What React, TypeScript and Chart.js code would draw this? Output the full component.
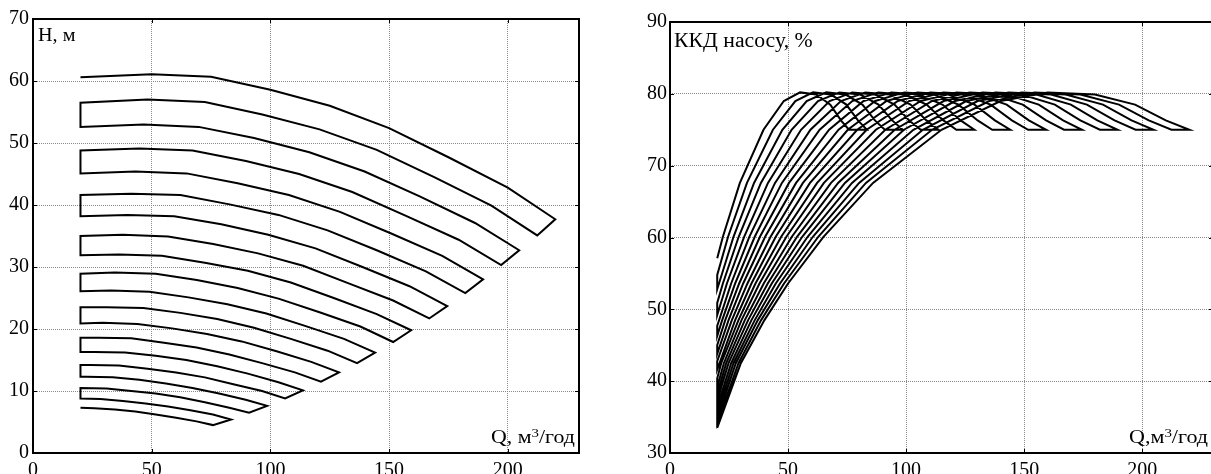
import React, { useEffect, useRef } from 'react';
import { Chart, registerables } from 'chart.js';

Chart.register(...registerables);

// ---------- tick labels ----------
const X_TICKS = [0, 50, 100, 150, 200];
const HEAD_TICKS = [0, 10, 20, 30, 40, 50, 60, 70];
const EFF_TICKS = [30, 40, 50, 60, 70, 80, 90];

// ---------- H–Q curves (Q, м³/год ; H, м) ----------
const head01Q = [20, 50, 75, 100, 125, 150, 175, 200, 220];
const head01H = [60.6, 61.1, 60.7, 58.6, 56.0, 52.4, 47.7, 42.8, 37.7];
const head02Q = [20, 48.3, 72.4, 96.6, 120.7, 144.8, 169.0, 193.1, 212.4];
const head02H = [56.5, 57.0, 56.6, 54.6, 52.2, 48.9, 44.5, 39.9, 35.1];
const head03Q = [20, 46.6, 69.8, 93.1, 116.4, 139.7, 162.9, 186.2, 204.8];
const head03H = [52.6, 53.0, 52.6, 50.8, 48.5, 45.4, 41.4, 37.1, 32.7];
const head04Q = [20, 44.8, 67.2, 89.7, 112.1, 134.5, 156.9, 179.3, 197.2];
const head04H = [48.8, 49.1, 48.8, 47.1, 45.0, 42.1, 38.3, 34.4, 30.3];
const head05Q = [20, 43.1, 64.7, 86.2, 107.8, 129.3, 150.9, 172.4, 189.6];
const head05H = [45.1, 45.4, 45.1, 43.5, 41.6, 38.9, 35.4, 31.8, 28.0];
const head06Q = [20, 41.4, 62.1, 82.8, 103.4, 124.1, 144.8, 165.5, 182.1];
const head06H = [41.6, 41.8, 41.6, 40.1, 38.4, 35.9, 32.7, 29.3, 25.8];
const head07Q = [20, 39.7, 59.5, 79.3, 99.1, 119.0, 138.8, 158.6, 174.5];
const head07H = [38.2, 38.4, 38.2, 36.9, 35.2, 33.0, 30.0, 26.9, 23.7];
const head08Q = [20, 37.9, 56.9, 75.9, 94.8, 113.8, 132.7, 151.7, 166.9];
const head08H = [35.0, 35.2, 34.9, 33.7, 32.2, 30.2, 27.4, 24.6, 21.7];
const head09Q = [20, 36.2, 54.3, 72.4, 90.5, 108.6, 126.7, 144.8, 159.3];
const head09H = [31.9, 32.0, 31.8, 30.7, 29.4, 27.5, 25.0, 22.4, 19.8];
const head10Q = [20, 34.5, 51.7, 69.0, 86.2, 103.4, 120.7, 137.9, 151.7];
const head10H = [28.9, 29.1, 28.9, 27.9, 26.6, 24.9, 22.7, 20.4, 17.9];
const head11Q = [20, 32.8, 49.1, 65.5, 81.9, 98.3, 114.6, 131.0, 144.1];
const head11H = [26.1, 26.2, 26.0, 25.1, 24.0, 22.5, 20.5, 18.4, 16.2];
const head12Q = [20, 31.0, 46.5, 62.1, 77.6, 93.1, 108.6, 124.1, 136.5];
const head12H = [23.5, 23.5, 23.4, 22.6, 21.6, 20.2, 18.4, 16.5, 14.5];
const head13Q = [20, 29.3, 44.0, 58.6, 73.3, 87.9, 102.6, 117.2, 128.9];
const head13H = [20.9, 21.0, 20.8, 20.1, 19.2, 18.0, 16.4, 14.7, 13.0];
const head14Q = [20, 27.6, 41.4, 55.2, 68.9, 82.7, 96.5, 110.3, 121.3];
const head14H = [18.6, 18.6, 18.5, 17.8, 17.0, 15.9, 14.5, 13.0, 11.5];
const head15Q = [20, 25.9, 38.8, 51.7, 64.6, 77.6, 90.5, 103.4, 113.7];
const head15H = [16.3, 16.3, 16.2, 15.7, 15.0, 14.0, 12.8, 11.4, 10.1];
const head16Q = [20, 24.1, 36.2, 48.3, 60.3, 72.4, 84.4, 96.5, 106.2];
const head16H = [14.2, 14.2, 14.1, 13.6, 13.0, 12.2, 11.1, 10.0, 8.8];
const head17Q = [20, 22.4, 33.6, 44.8, 56.0, 67.2, 78.4, 89.6, 98.6];
const head17H = [12.3, 12.3, 12.2, 11.8, 11.2, 10.5, 9.6, 8.6, 7.6];
const head18Q = [20, 31.0, 41.4, 51.7, 62.0, 72.4, 82.7, 91.0];
const head18H = [10.5, 10.4, 10.0, 9.6, 9.0, 8.2, 7.3, 6.5];
const head19Q = [20, 28.4, 37.9, 47.4, 56.9, 66.3, 75.8, 83.4];
const head19H = [8.8, 8.7, 8.4, 8.0, 7.5, 6.9, 6.2, 5.4];
const head20Q = [20, 25.8, 34.5, 43.1, 51.7, 60.3, 68.9, 75.8];
const head20H = [7.3, 7.2, 7.0, 6.7, 6.2, 5.7, 5.1, 4.5];

// ---------- efficiency curves (Q, м³/год ; ККД, %) ----------
const eff01Q = [20, 30, 40, 50, 65, 86, 115, 140, 160, 180, 197, 210, 220];
const eff01E = [33.5, 42.5, 48.5, 53.6, 60.1, 67.6, 75, 79, 80.2, 79.9, 78.5, 76.3, 75];
const eff02Q = [20, 29.0, 38.6, 48.3, 62.8, 83.0, 111.0, 135.2, 154.5, 173.8, 190.2, 202.8, 212.4];
const eff02E = [34.1, 42.5, 48.5, 53.6, 60.1, 67.6, 75, 79, 80.2, 79.9, 78.5, 76.3, 75];
const eff03Q = [20, 27.9, 37.2, 46.6, 60.5, 80.1, 107.1, 130.3, 149.0, 167.6, 183.4, 195.5, 204.8];
const eff03E = [34.8, 42.5, 48.5, 53.6, 60.1, 67.6, 75, 79, 80.2, 79.9, 78.5, 76.3, 75];
const eff04Q = [20, 26.9, 35.9, 44.8, 58.3, 77.1, 103.1, 125.5, 143.4, 161.4, 176.6, 188.3, 197.2];
const eff04E = [35.6, 42.5, 48.5, 53.6, 60.1, 67.6, 75, 79, 80.2, 79.9, 78.5, 76.3, 75];
const eff05Q = [20, 25.9, 34.5, 43.1, 56.0, 74.1, 99.1, 120.7, 137.9, 155.2, 169.8, 181.0, 189.6];
const eff05E = [36.4, 42.5, 48.5, 53.6, 60.1, 67.6, 75, 79, 80.2, 79.9, 78.5, 76.3, 75];
const eff06Q = [20, 24.8, 33.1, 41.4, 53.8, 71.2, 95.2, 115.9, 132.4, 149.0, 163.0, 173.8, 182.1];
const eff06E = [37.3, 42.5, 48.5, 53.6, 60.1, 67.6, 75, 79, 80.2, 79.9, 78.5, 76.3, 75];
const eff07Q = [20, 23.8, 31.7, 39.7, 51.6, 68.2, 91.2, 111.0, 126.9, 142.7, 156.2, 166.5, 174.5];
const eff07E = [38.2, 42.5, 48.5, 53.6, 60.1, 67.6, 75, 79, 80.2, 79.9, 78.5, 76.3, 75];
const eff08Q = [20, 22.8, 30.3, 37.9, 49.3, 65.2, 87.2, 106.2, 121.4, 136.5, 149.4, 159.3, 166.9];
const eff08E = [39.2, 42.5, 48.5, 53.6, 60.1, 67.6, 75, 79, 80.2, 79.9, 78.5, 76.3, 75];
const eff09Q = [20, 21.7, 29.0, 36.2, 47.1, 62.3, 83.3, 101.4, 115.8, 130.3, 142.6, 152.0, 159.3];
const eff09E = [40.4, 42.5, 48.5, 53.6, 60.1, 67.6, 75, 79, 80.2, 79.9, 78.5, 76.3, 75];
const eff10Q = [20, 27.6, 34.5, 44.8, 59.3, 79.3, 96.5, 110.3, 124.1, 135.8, 144.8, 151.7];
const eff10E = [41.6, 48.5, 53.6, 60.1, 67.6, 75, 79, 80.2, 79.9, 78.5, 76.3, 75];
const eff11Q = [20, 26.2, 32.8, 42.6, 56.3, 75.3, 91.7, 104.8, 117.9, 129.0, 137.6, 144.1];
const eff11E = [42.8, 48.5, 53.6, 60.1, 67.6, 75, 79, 80.2, 79.9, 78.5, 76.3, 75];
const eff12Q = [20, 24.8, 31.0, 40.3, 53.4, 71.4, 86.9, 99.3, 111.7, 122.2, 130.3, 136.5];
const eff12E = [43.8, 48.5, 53.6, 60.1, 67.6, 75, 79, 80.2, 79.9, 78.5, 76.3, 75];
const eff13Q = [20, 23.4, 29.3, 38.1, 50.4, 67.4, 82.0, 93.8, 105.5, 115.4, 123.1, 128.9];
const eff13E = [45.0, 48.5, 53.6, 60.1, 67.6, 75, 79, 80.2, 79.9, 78.5, 76.3, 75];
const eff14Q = [20, 22.1, 27.6, 35.9, 47.4, 63.4, 77.2, 88.2, 99.3, 108.7, 115.8, 121.3];
const eff14E = [46.3, 48.5, 53.6, 60.1, 67.6, 75, 79, 80.2, 79.9, 78.5, 76.3, 75];
const eff15Q = [20, 25.9, 33.6, 44.5, 59.5, 72.4, 82.7, 93.1, 101.9, 108.6, 113.7];
const eff15E = [47.7, 53.6, 60.1, 67.6, 75, 79, 80.2, 79.9, 78.5, 76.3, 75];
const eff16Q = [20, 24.1, 31.4, 41.5, 55.5, 67.6, 77.2, 86.9, 95.1, 101.3, 106.2];
const eff16E = [49.2, 53.6, 60.1, 67.6, 75, 79, 80.2, 79.9, 78.5, 76.3, 75];
const eff17Q = [20, 22.4, 29.1, 38.5, 51.5, 62.7, 71.7, 80.6, 88.3, 94.1, 98.6];
const eff17E = [50.9, 53.6, 60.1, 67.6, 75, 79, 80.2, 79.9, 78.5, 76.3, 75];
const eff18Q = [20, 26.9, 35.6, 47.6, 57.9, 66.2, 74.4, 81.5, 86.8, 91.0];
const eff18E = [52.8, 60.1, 67.6, 75, 79, 80.2, 79.9, 78.5, 76.3, 75];
const eff19Q = [20, 24.6, 32.6, 43.6, 53.1, 60.6, 68.2, 74.7, 79.6, 83.4];
const eff19E = [54.8, 60.1, 67.6, 75, 79, 80.2, 79.9, 78.5, 76.3, 75];
const eff20Q = [20, 22.4, 29.6, 39.6, 48.2, 55.1, 62.0, 67.9, 72.4, 75.8];
const eff20E = [57.1, 60.1, 67.6, 75, 79, 80.2, 79.9, 78.5, 76.3, 75];

const HEAD_CURVES: number[][][] = [
  [head01Q, head01H], [head02Q, head02H], [head03Q, head03H], [head04Q, head04H],
  [head05Q, head05H], [head06Q, head06H], [head07Q, head07H], [head08Q, head08H],
  [head09Q, head09H], [head10Q, head10H], [head11Q, head11H], [head12Q, head12H],
  [head13Q, head13H], [head14Q, head14H], [head15Q, head15H], [head16Q, head16H],
  [head17Q, head17H], [head18Q, head18H], [head19Q, head19H], [head20Q, head20H],
];

const EFF_CURVES: number[][][] = [
  [eff01Q, eff01E], [eff02Q, eff02E], [eff03Q, eff03E], [eff04Q, eff04E],
  [eff05Q, eff05E], [eff06Q, eff06E], [eff07Q, eff07E], [eff08Q, eff08E],
  [eff09Q, eff09E], [eff10Q, eff10E], [eff11Q, eff11E], [eff12Q, eff12E],
  [eff13Q, eff13E], [eff14Q, eff14E], [eff15Q, eff15E], [eff16Q, eff16E],
  [eff17Q, eff17E], [eff18Q, eff18E], [eff19Q, eff19E], [eff20Q, eff20E],
];

// curves are joined end-to-end (serpentine), every second one drawn backwards
function serpentine(curves: number[][][]) {
  const pts: { x: number; y: number }[] = [];
  curves.forEach(([q, v], i) => {
    const seg = q.map((x, j) => ({ x, y: v[j] }));
    if (i % 2 === 1) seg.reverse();
    pts.push(...seg);
  });
  return pts;
}

const FONT = '"Liberation Serif", "Times New Roman", serif';

const framePlugin = {
  id: 'frame',
  afterDraw(chart: any) {
    const { ctx, chartArea: a, scales } = chart;
    ctx.save();
    ctx.strokeStyle = '#000';
    ctx.lineWidth = 1;
    const L = 4;
    const seg = (x1: number, y1: number, x2: number, y2: number) => {
      ctx.beginPath();
      ctx.moveTo(x1, y1);
      ctx.lineTo(x2, y2);
      ctx.stroke();
    };
    scales.x.ticks.forEach((t: any) => {
      const px = Math.round(scales.x.getPixelForValue(t.value)) + 0.5;
      seg(px, a.bottom, px, a.bottom - L);
      seg(px, a.top, px, a.top + L);
    });
    scales.y.ticks.forEach((t: any) => {
      const py = Math.round(scales.y.getPixelForValue(t.value)) + 0.5;
      seg(a.left, py, a.left + L, py);
      seg(a.right, py, a.right - L, py);
    });
    ctx.lineWidth = 2;
    ctx.strokeRect(a.left, a.top, a.right - a.left, a.bottom - a.top);
    ctx.restore();
  },
};

type PanelProps = {
  curves: number[][][];
  yTicks: number[];
  yMin: number;
  yMax: number;
  left: number;
  width: number;
  yAxisWidth: number;
  padTop: number;
  padRight: number;
  labelPad: number;
};

function Panel(p: PanelProps) {
  const ref = useRef<HTMLCanvasElement | null>(null);
  useEffect(() => {
    if (!ref.current) return;
    const chart = new Chart(ref.current, {
      type: 'scatter',
      data: {
        datasets: [
          {
            data: serpentine(p.curves),
            showLine: true,
            borderColor: '#000',
            borderWidth: 2,
            pointRadius: 0,
            tension: 0,
            fill: false,
          },
        ],
      },
      options: {
        animation: false,
        responsive: false,
        maintainAspectRatio: false,
        devicePixelRatio: 1,
        layout: { padding: { top: p.padTop, right: p.padRight, left: 0, bottom: 0 } },
        plugins: { legend: { display: false }, tooltip: { enabled: false } },
        scales: {
          x: {
            type: 'linear',
            min: 0,
            max: 230,
            afterBuildTicks: (axis: any) => {
              axis.ticks = X_TICKS.map((v) => ({ value: v }));
            },
            afterFit: (axis: any) => {
              axis.height = 21;
            },
            grid: { color: '#8a8a8a', lineWidth: 1, drawTicks: false },
            border: { display: false, dash: [1, 1] },
            ticks: {
              color: '#000',
              font: { family: FONT, size: 20 },
              padding: 6,
              maxRotation: 0,
              autoSkip: false,
            },
          },
          y: {
            type: 'linear',
            min: p.yMin,
            max: p.yMax,
            afterBuildTicks: (axis: any) => {
              axis.ticks = p.yTicks.map((v) => ({ value: v }));
            },
            afterFit: (axis: any) => {
              axis.width = p.yAxisWidth;
            },
            grid: { color: '#8a8a8a', lineWidth: 1, drawTicks: false },
            border: { display: false, dash: [1, 1] },
            ticks: {
              color: '#000',
              font: { family: FONT, size: 20 },
              padding: p.labelPad,
              autoSkip: false,
            },
          },
        },
      },
      plugins: [framePlugin],
    } as any);
    return () => chart.destroy();
  }, []);
  return (
    <canvas
      ref={ref}
      width={p.width}
      height={474}
      style={{ position: 'absolute', left: p.left, top: 0, width: p.width, height: 474 }}
    />
  );
}

function Label(props: { left: number; baseline: number; size: number; stretch: number; children: React.ReactNode }) {
  const { left, baseline, size, stretch, children } = props;
  return (
    <span
      style={{
        position: 'absolute',
        left,
        top: baseline - 0.837 * size,
        fontFamily: FONT,
        fontSize: size,
        lineHeight: `${size}px`,
        whiteSpace: 'nowrap',
        color: '#000',
        transform: `scaleX(${stretch})`,
        transformOrigin: 'left top',
      }}
    >
      {children}
    </span>
  );
}

const Sup = ({ children }: { children: React.ReactNode }) => (
  <span style={{ fontSize: '0.68em', position: 'relative', top: '-0.5em' }}>{children}</span>
);

export default function App() {
  return (
    <div
      style={{
        position: 'fixed',
        left: 0,
        top: 0,
        width: 1211,
        height: 474,
        overflow: 'hidden',
        background: '#fff',
      }}
    >
      <Panel
        curves={HEAD_CURVES}
        yTicks={HEAD_TICKS}
        yMin={0}
        yMax={70}
        left={0}
        width={600}
        yAxisWidth={33}
        padTop={19}
        padRight={21}
        labelPad={4}
      />
      <Panel
        curves={EFF_CURVES}
        yTicks={EFF_TICKS}
        yMin={30}
        yMax={90}
        left={620}
        width={600}
        yAxisWidth={50}
        padTop={22}
        padRight={7}
        labelPad={3}
      />
      <Label left={38} baseline={41} size={18} stretch={1.12}>H, м</Label>
      <Label left={491} baseline={443} size={19} stretch={1.15}>
        Q, м<Sup>3</Sup>/год
      </Label>
      <Label left={674} baseline={46.5} size={20} stretch={1.087}>ККД насосу, %</Label>
      <Label left={1129} baseline={443} size={19} stretch={1.16}>
        Q,м<Sup>3</Sup>/год
      </Label>
    </div>
  );
}
